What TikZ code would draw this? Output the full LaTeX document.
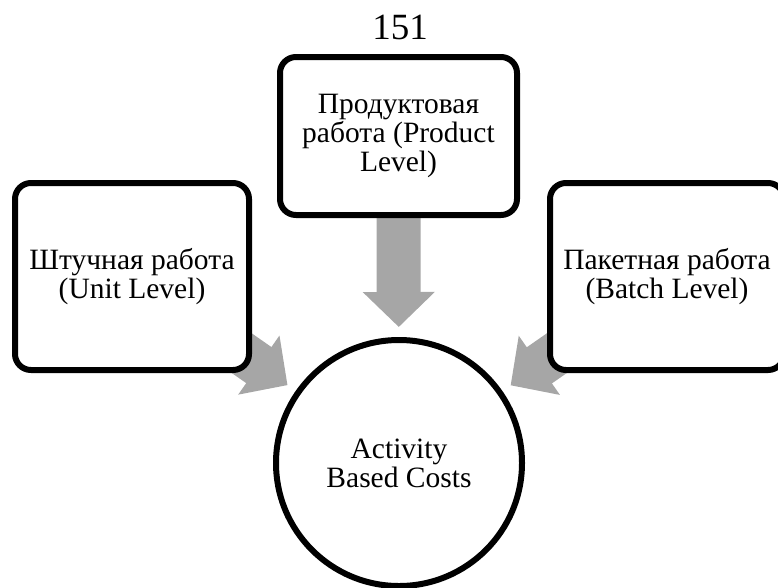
\documentclass[tikz,border=0pt]{standalone}
\usepackage{fontspec}
\setmainfont{Liberation Serif}
\usetikzlibrary{arrows.meta,backgrounds}
\definecolor{arrowgray}{RGB}{166,166,166}
\begin{document}
\begin{tikzpicture}[x=1pt, y=-1pt,
  box/.style={draw, line width=6pt, rounded corners=16pt, fill=white, align=center,
    inner sep=0pt, outer sep=3pt, font=\fontsize{29.5}{29}\selectfont},
  costs/.style={draw, circle, line width=6pt, fill=white, align=center, minimum size=246pt,
    inner sep=0pt, outer sep=3pt, font=\fontsize{29.5}{29}\selectfont},
  flow/.style={draw=arrowgray, line width=44pt, -{Triangle[width=70pt,length=35pt]}, shorten >=10pt}]
  \useasboundingbox (0,0) rectangle (778,587);

  % номер страницы
  \node (pagenum) at (400,27) {\fontsize{37}{37}\selectfont 151};

  % виды работ
  \node[box, minimum width=237pt, minimum height=158pt] (product) at (398.5,136) {Продуктовая\\работа (Product\\Level)};
  \node[box, minimum width=234pt, minimum height=187pt] (unit) at (132,276.5) {Штучная работа\\(Unit Level)};
  \node[box, minimum width=234pt, minimum height=187pt] (batch) at (667,276.5) {Пакетная работа\\(Batch Level)};

  % итоговые затраты
  \node[costs] (abc) at (399,463) {Activity\\Based Costs};

  % серые стрелки под узлами
  \begin{scope}[on background layer]
    \draw[flow] (product.center) -- (abc);
    \draw[flow] (unit.center) -- (abc);
    \draw[flow] (batch.center) -- (abc);
  \end{scope}
\end{tikzpicture}
\end{document}
